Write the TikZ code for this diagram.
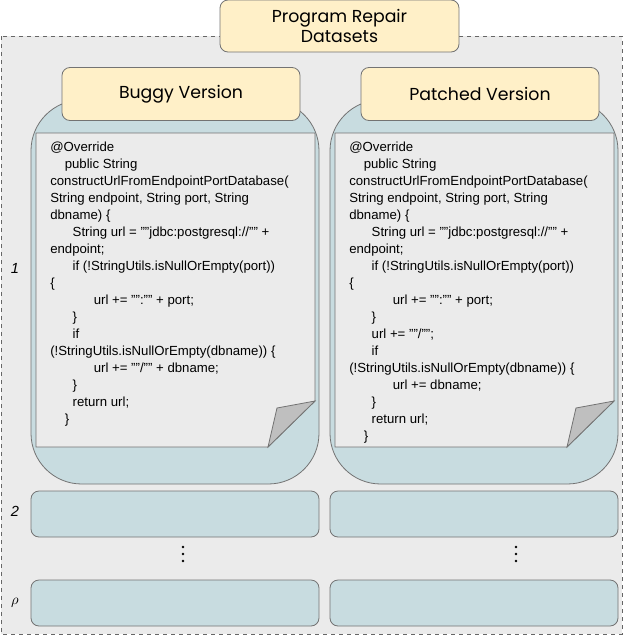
\documentclass[tikz,border=0pt]{standalone}
\usepackage{fontspec}
\setmainfont{Liberation Sans}
\newfontfamily\titlefont{Poppins}
\begin{document}
\begin{tikzpicture}[x=0.75pt,y=-0.75pt,
  frame/.style={draw=black!55,line width=0.6pt},
  cream/.style={frame,fill=cream,rounded corners=6pt},
  pill/.style={frame,fill=bluegray},
  row/.style={frame,fill=bluegray,rounded corners=6pt},
  code/.style={anchor=north west,align=left,font=\fontsize{9.9pt}{12.75pt}\selectfont,inner sep=0pt},
  head/.style={font=\titlefont\fontsize{13pt}{15pt}\selectfont,align=center},
  dot/.style={circle,fill=black,inner sep=0pt,minimum size=2.2pt},
  lab/.style={font=\itshape\fontsize{11pt}{12pt}\selectfont}]
\definecolor{cream}{HTML}{FFF0C8}
\definecolor{bluegray}{HTML}{C8DCE0}
\definecolor{bg}{HTML}{EBEBEB}
\useasboundingbox (0,0) rectangle (624,636);
\draw[dashed,draw=black!60,fill=bg] (1,36) rectangle (622,634);
\node[cream,minimum width=239*0.75pt,minimum height=52*0.75pt,head] (title) at (339.5,26) {Program Repair\\Datasets};
\foreach \x/\n/\t/\d in {31/L/Buggy Version/152,330/R/Patched Version/186}{
  \draw[pill,rounded corners=38pt] (\x,484) rectangle (\x+288,100);
  \node[cream,minimum width=238*0.75pt,minimum height=53*0.75pt,head] (h\n) at (\x+150,94) {\t};
  \draw[frame,fill=bg] (\x+5,133) -- (\x+284,133) -- (\x+284,401) -- (\x+237,447) -- (\x+5,447) -- cycle;
  \draw[frame,fill=black!25] (\x+237,447) -- (\x+246,408) -- (\x+284,401) -- cycle;
  \draw[row] (\x,491) rectangle (\x+288,537);
  \draw[row] (\x,580) rectangle (\x+288,626);
  \node[dot] (da\n) at (\x+\d,547) {};
  \node[dot] (db\n) at (\x+\d,554) {};
  \node[dot] (dc\n) at (\x+\d,561) {};
}
\node[code] (cL) at (50,142) {@Override\\
\hspace*{1.1em}public String\\
constructUrlFromEndpointPortDatabase(\\
String endpoint, String port, String\\
dbname) \{\\
\hspace*{1.7em}String url = ""jdbc:postgresql://"" +\\
endpoint;\\
\hspace*{1.7em}if (!StringUtils.isNullOrEmpty(port))\\
\{\\
\hspace*{3.3em}url += "":"" + port;\\
\hspace*{1.7em}\}\\
\hspace*{1.7em}if\\
(!StringUtils.isNullOrEmpty(dbname)) \{\\
\hspace*{3.3em}url += ""/"" + dbname;\\
\hspace*{1.7em}\}\\
\hspace*{1.7em}return url;\\
\hspace*{1.1em}\}};
\node[code] (cR) at (349,142) {@Override\\
\hspace*{1.1em}public String\\
constructUrlFromEndpointPortDatabase(\\
String endpoint, String port, String\\
dbname) \{\\
\hspace*{1.7em}String url = ""jdbc:postgresql://"" +\\
endpoint;\\
\hspace*{1.7em}if (!StringUtils.isNullOrEmpty(port))\\
\{\\
\hspace*{3.3em}url += "":"" + port;\\
\hspace*{1.7em}\}\\
\hspace*{1.7em}url += ""/"";\\
\hspace*{1.7em}if\\
(!StringUtils.isNullOrEmpty(dbname)) \{\\
\hspace*{3.3em}url += dbname;\\
\hspace*{1.7em}\}\\
\hspace*{1.7em}return url;\\
\hspace*{1.1em}\}};
\node[lab] (l1) at (15,268) {1};
\node[lab] (l2) at (15,511) {2};
\node[lab] (l3) at (15,603) {$\rho$};
\end{tikzpicture}
\end{document}
